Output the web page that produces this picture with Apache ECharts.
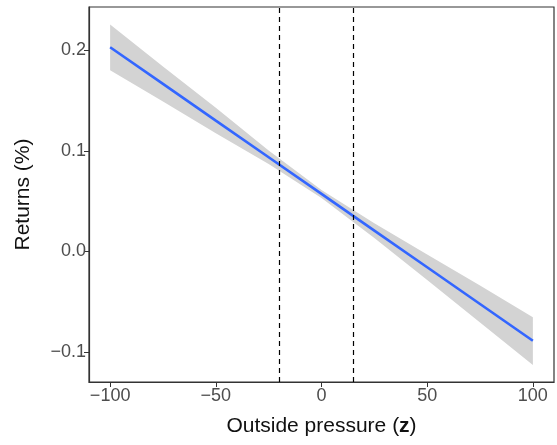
<!doctype html>
<html>
<head>
	<meta charset="utf-8">
	<title>Returns vs outside pressure</title>
	<style>
		html, body { margin: 0; padding: 0; background: #fff; }
		#main { width: 557px; height: 445px; }
	</style>
</head>
<body>
<div id="main"></div>
<script src="https://cdn.jsdelivr.net/npm/echarts@6/dist/echarts.min.js"></script>
<script>
	// values
	var xs = [-100, -75, -50, -25, 0, 25, 50, 75, 100]
	var fit = [0.203, 0.1665, 0.130, 0.0936, 0.0571, 0.0206, -0.0159, -0.0524, -0.089]
	var lower = [0.180, 0.149, 0.1173, 0.0869, 0.0531, 0.0132, -0.0286, -0.0707, -0.113]
	var upper = [0.2255, 0.1839, 0.1427, 0.1003, 0.0611, 0.0280, -0.0032, -0.0341, -0.0655]
	var vlines = [-20, 15]
	var xTicks = [-100, -50, 0, 50, 100]
	var yTicks = [-0.1, 0, 0.1, 0.2]

	function minus(s) { return String(s).replace('-', '\u2212') }

	var fitData = []
	for (var i = 0; i < xs.length; i++) fitData.push([xs[i], fit[i]])

	var myChart = echarts.init(document.getElementById('main'))
	var font = 'Liberation Sans, Arial, sans-serif'
	var option = {
		animation: false,
		grid: { left: 89, top: 7, right: 3, bottom: 63, show: true, borderColor: '#333', borderWidth: 1.2 },
		xAxis: {
			type: 'value', min: -110, max: 110,
			name: 'Outside pressure ({b|z})', nameLocation: 'middle', nameGap: 34,
			nameTextStyle: { color: '#111', fontSize: 21, fontFamily: font, rich: { b: { fontSize: 21, fontWeight: 'bold', color: '#111', fontFamily: font } } },
			axisLine: { show: true, onZero: false, lineStyle: { color: '#333', width: 1.2 } },
			axisTick: { show: true, customValues: xTicks, length: 5, lineStyle: { color: '#333' } },
			axisLabel: { customValues: xTicks, color: '#4d4d4d', fontSize: 18, fontFamily: font, margin: 5, formatter: function (v) { return minus(v) } },
			splitLine: { show: false }
		},
		yAxis: {
			type: 'value', min: -0.13, max: 0.243,
			name: 'Returns (%)', nameLocation: 'middle', nameGap: 55, nameRotate: 90,
			nameTextStyle: { color: '#111', fontSize: 21, fontFamily: font },
			axisLine: { show: true, onZero: false, lineStyle: { color: '#333', width: 1.2 } },
			axisTick: { show: true, customValues: yTicks, length: 5, lineStyle: { color: '#333' } },
			axisLabel: { customValues: yTicks, color: '#4d4d4d', fontSize: 18, fontFamily: font, margin: 3, formatter: function (v) { return minus(v.toFixed(1)) } },
			splitLine: { show: false }
		},
		series: [
			{
				type: 'custom',
				silent: true,
				data: [0],
				renderItem: function (params, api) {
					var pts = []
					for (var i = 0; i < xs.length; i++) pts.push(api.coord([xs[i], upper[i]]))
					for (var j = xs.length - 1; j >= 0; j--) pts.push(api.coord([xs[j], lower[j]]))
					return { type: 'polygon', shape: { points: pts }, style: { fill: '#d3d3d3' } }
				},
				z: 1
			},
			{
				type: 'line',
				data: fitData,
				showSymbol: false,
				lineStyle: { color: '#3366ff', width: 2.6 },
				z: 3,
				markLine: {
					silent: true,
					symbol: 'none',
					label: { show: false },
					lineStyle: { color: '#000', type: [5, 4], width: 1.2 },
					data: vlines.map(function (v) { return { xAxis: v } })
				}
			}
		]
	}
	myChart.setOption(option)
</script>
</body>
</html>
